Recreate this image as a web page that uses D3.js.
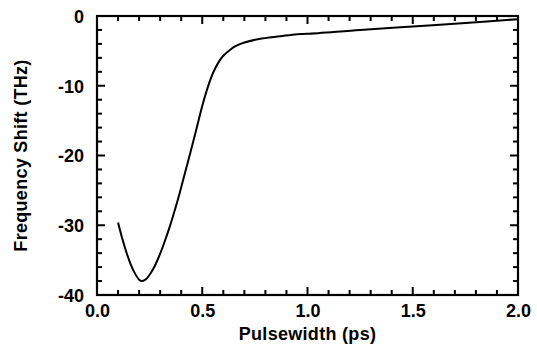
<!DOCTYPE html>
<html><head><meta charset="utf-8">
<script src="https://cdn.jsdelivr.net/npm/d3@7"></script>
<style>
body{margin:0;background:#fff;}
svg{display:block;}
text{font-family:"Liberation Sans",Arial,Helvetica,sans-serif;font-weight:bold;fill:#000;}
</style></head>
<body>
<svg id="c" width="537" height="347"></svg>
<script>
const pulsewidth = [0.10,0.12,0.14,0.16,0.18,0.20,0.21,0.23,0.25,0.27,0.29,0.31,0.33,0.35,0.37,0.39,0.41,0.44,0.47,0.50,0.52,0.54,0.56,0.58,0.60,0.63,0.66,0.70,0.77,0.87,0.95,1.00,1.25,1.50,1.75,2.00];
const shift      = [-29.6,-31.9,-33.9,-35.6,-36.9,-37.8,-38.0,-37.8,-37.1,-36.1,-34.8,-33.3,-31.6,-29.8,-27.8,-25.7,-23.4,-20.0,-16.5,-12.9,-10.8,-9.0,-7.6,-6.5,-5.7,-4.9,-4.3,-3.8,-3.3,-2.9,-2.6,-2.55,-2.0,-1.5,-1.0,-0.45];
const xMajor = [0,0.5,1.0,1.5,2.0];
const xLabels = ["0.0","0.5","1.0","1.5","2.0"];
const yMajor = [0,-10,-20,-30,-40];
const yLabels = ["0","-10","-20","-30","-40"];
const xTitle = "Pulsewidth (ps)";
const yTitle = "Frequency Shift (THz)";

const L=97,R=518,T=16,B=295;
const svg=d3.select("#c");
const x=d3.scaleLinear().domain([0,2]).range([L,R]);
const y=d3.scaleLinear().domain([-40,0]).range([B,T]);

const xTicks=d3.range(0,21).map(i=>({v:i/10,major:i%5===0}));
const yTicks=d3.range(0,21).map(i=>({v:-40+2*i,major:i%5===0}));

const xb=svg.append("g").attr("transform",`translate(0,${B})`)
  .call(d3.axisBottom(x).tickValues(xMajor).tickSize(0).tickPadding(9).tickFormat((d,i)=>xLabels[i]));
const yl=svg.append("g").attr("transform",`translate(${L},0)`)
  .call(d3.axisLeft(y).tickValues(yMajor).tickSize(0).tickPadding(13).tickFormat((d,i)=>yLabels[i]));
[xb,yl].forEach(a=>{a.select(".domain").remove();
  a.selectAll(".tick text").style("font-size","18px").style("font-family","'Liberation Sans',Arial,sans-serif")
   .style("font-weight","bold").attr("fill","#000");});
xb.selectAll(".tick text").attr("dy","0.71em");
yl.selectAll(".tick text").attr("dy","0.36em");

svg.append("rect").attr("x",L).attr("y",T).attr("width",R-L).attr("height",B-T)
  .attr("fill","none").attr("stroke","#000").attr("stroke-width",2.2);

const tk=svg.append("g").attr("class","ticks").attr("fill","#000");
const tl=d=>d.major?8:5;
tk.selectAll("rect.xb").data(xTicks).join("rect").attr("class","xb")
  .attr("x",d=>x(d.v)-1).attr("width",2).attr("y",d=>B-tl(d)).attr("height",tl);
tk.selectAll("rect.xt").data(xTicks).join("rect").attr("class","xt")
  .attr("x",d=>x(d.v)-1).attr("width",2).attr("y",T).attr("height",tl);
tk.selectAll("rect.yl").data(yTicks).join("rect").attr("class","yl")
  .attr("y",d=>y(d.v)-1).attr("height",2).attr("x",L).attr("width",tl);
tk.selectAll("rect.yr").data(yTicks).join("rect").attr("class","yr")
  .attr("y",d=>y(d.v)-1).attr("height",2).attr("x",d=>R-tl(d)).attr("width",tl);

const pts=pulsewidth.map((p,i)=>[p,shift[i]]);
svg.append("path").datum(pts)
  .attr("d",d3.line().x(d=>x(d[0])).y(d=>y(d[1])).curve(d3.curveCatmullRom.alpha(0.5)))
  .attr("fill","none").attr("stroke","#000").attr("stroke-width",2);

svg.append("text").attr("x",(L+R)/2).attr("y",340).attr("text-anchor","middle")
  .style("font-size","18px").style("letter-spacing","0.3px").text(xTitle);
svg.append("text").attr("transform",`translate(27,${(T+B)/2}) rotate(-90)`).attr("text-anchor","middle")
  .style("font-size","18px").style("letter-spacing","0.3px").text(yTitle);
</script>
</body></html>
